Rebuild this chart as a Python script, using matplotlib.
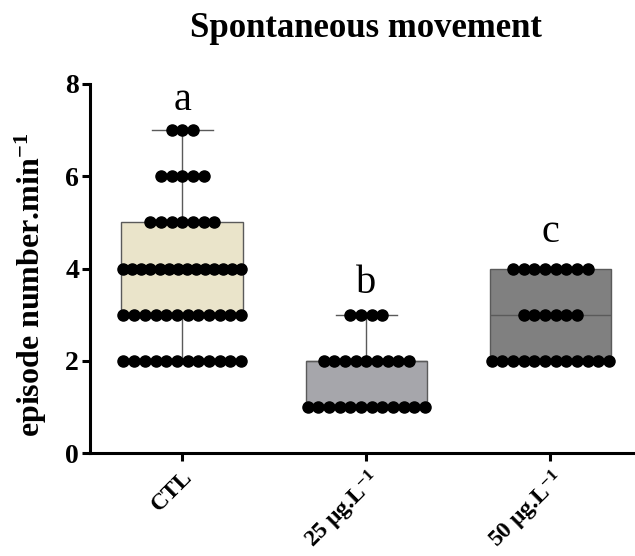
import numpy as np
import matplotlib
matplotlib.use("Agg")
import matplotlib.pyplot as plt

plt.rcParams["font.family"] = ["Liberation Serif", "DejaVu Serif"]
plt.rcParams["mathtext.default"] = "regular"

# --------------------------------------------------------------------------
# DATA (episode counts per level)
# --------------------------------------------------------------------------
groups = ["CTL", "25 μg.L$^{-1}$", "50 μg.L$^{-1}$"]
letters = ["a", "b", "c"]
letter_y = [7.65, 3.67, 4.78]

ctl_levels = [2, 3, 4, 5, 6, 7]
ctl_counts = [12, 12, 14, 7, 5, 3]
low_levels = [1, 2, 3]
low_counts = [12, 9, 4]
high_levels = [2, 3, 4]
high_counts = [12, 6, 8]

box_colors = ["#EAE4CA", "#A6A6AB", "#808080"]
edge_color = "#5A5A5A"


def expand(levels, counts):
    """Turn level/count pairs into the raw list of observations."""
    return np.repeat(levels, counts)


data = [expand(ctl_levels, ctl_counts),
        expand(low_levels, low_counts),
        expand(high_levels, high_counts)]
level_sets = [(ctl_levels, ctl_counts), (low_levels, low_counts), (high_levels, high_counts)]

# --------------------------------------------------------------------------
# FIGURE
# --------------------------------------------------------------------------
fig = plt.figure(figsize=(6.35, 5.56), dpi=100)
ax = fig.add_axes([0.142, 0.185, 0.858, 0.664])

positions = np.arange(len(groups))
bp = ax.boxplot(data, positions=positions, widths=0.66, whis=(0, 100),
                patch_artist=True, showfliers=False,
                medianprops=dict(color=edge_color, linewidth=1.0),
                whiskerprops=dict(color=edge_color, linewidth=1.0),
                capprops=dict(color=edge_color, linewidth=1.0),
                boxprops=dict(edgecolor=edge_color, linewidth=1.0))
for patch, color in zip(bp["boxes"], box_colors):
    patch.set_facecolor(color)
for cap in bp["caps"]:
    mid = cap.get_xdata().mean()
    cap.set_xdata([mid - 0.165, mid + 0.165])

# dots spread sideways at each level
for pos, (levels, counts) in zip(positions, level_sets):
    for level, n in zip(levels, counts):
        step = min(0.058, 0.64 / max(n - 1, 1))
        offsets = (np.arange(n) - (n - 1) / 2) * step
        ax.plot(pos + offsets, np.full(n, level), "o", color="black",
                markersize=8, zorder=5)

for pos, letter, y in zip(positions, letters, letter_y):
    ax.text(pos, y, letter, ha="center", va="center", fontsize=29)

ax.set_xlim(-0.5, 2.46)
ax.set_ylim(0, 8)
ax.set_yticks([0, 2, 4, 6, 8])
ax.set_xticks(positions)
ax.set_xticklabels(groups, rotation=45, ha="right", rotation_mode="anchor",
                   fontsize=17, fontweight="bold")
for label in ax.get_yticklabels():
    label.set_fontsize(20)
    label.set_fontweight("bold")

ax.spines["top"].set_visible(False)
ax.spines["right"].set_visible(False)
ax.spines["left"].set_linewidth(2.2)
ax.spines["bottom"].set_linewidth(2.2)
ax.tick_params(width=2.2, length=6)
ax.tick_params(axis="y", pad=2)

ax.set_ylabel("episode number.min$^{-1}$", fontsize=23, fontweight="bold")
ax.yaxis.set_label_coords(-0.075, 0.455)
fig.text(0.577, 0.933, "Spontaneous movement", ha="center", va="baseline",
         fontsize=25, fontweight="bold")

fig.savefig("out.png", dpi=100)
